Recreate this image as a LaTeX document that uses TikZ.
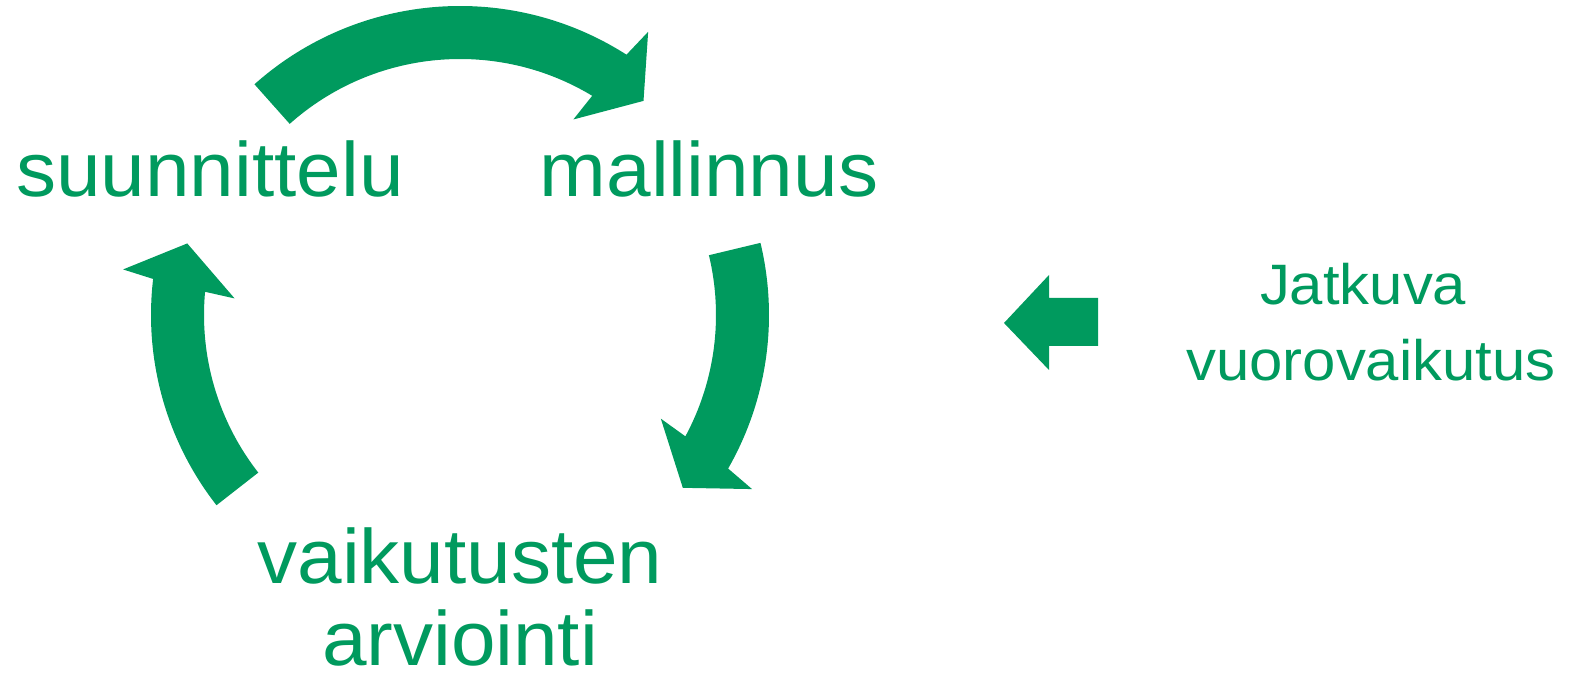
\documentclass[tikz,border=0pt]{standalone}
\usepackage{fontspec}
\setmainfont{Liberation Sans}
\definecolor{pgreen}{RGB}{0,154,94}
\newcommand\cyclearrow[2]{%
  \fill[arrowfill] (#1:309) arc[start angle=#1,end angle=#2,radius=309]
    -- ({#2-1}:340) -- ({#2-8}:282) -- ({#2+2.5}:226) -- ({#2+1.5}:256)
    arc[start angle={#2+1.5},end angle=#1,radius=256] -- cycle;}
\begin{document}
\begin{tikzpicture}[x=1pt,y=1pt,
  arrowfill/.style={fill=pgreen},
  biglabel/.style={text=pgreen,inner sep=0pt,anchor=base,align=center,
    font=\fontsize{77}{82}\selectfont,xscale=1.04},
  sidelabel/.style={text=pgreen,inner sep=0pt,anchor=base,align=center,
    font=\fontsize{57}{76}\selectfont,xscale=1.05}]
\useasboundingbox (0,0) rectangle (1584,676);
\begin{scope}[shift={(460,361)}]
  \cyclearrow{131.7}{57.4}
  \cyclearrow{13.5}{-29.8}
  \cyclearrow{218}{173.3}
\end{scope}
\node[biglabel] (plan) at (210,479) {suunnittelu};
\node[biglabel] (model) at (709,479) {mallinnus};
\node[biglabel] (eval) at (460,10) {vaikutusten\\arviointi};
\node[sidelabel] (cont) at (1371,295) {Jatkuva\hspace*{15pt}\\vuorovaikutus};
\fill[arrowfill] (1004,353) -- (1049,401) -- (1049,378) -- (1098,378)
  -- (1098,330) -- (1049,330) -- (1049,306) -- cycle;
\end{tikzpicture}
\end{document}
